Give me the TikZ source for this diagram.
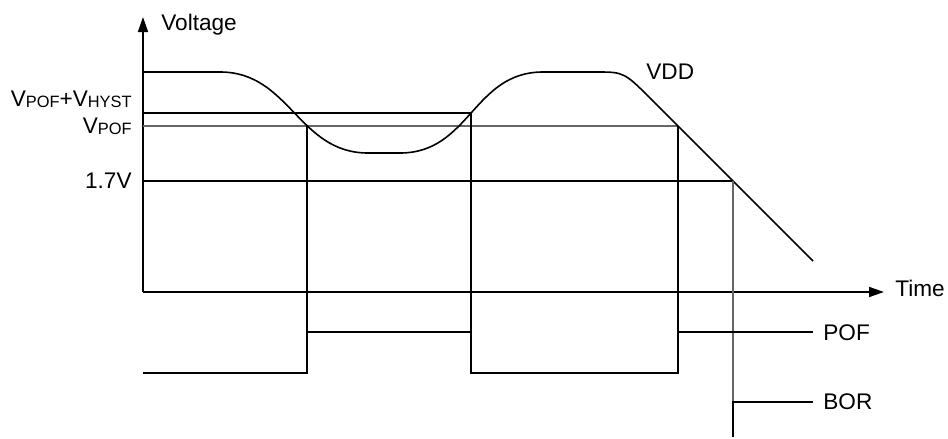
\documentclass[tikz,border=0pt]{standalone}
\usepackage{fontspec}
\setmainfont{Liberation Sans}
\usetikzlibrary{arrows.meta}
\newcommand{\lowsub}[1]{\raisebox{-0.5pt}{\fontsize{8.2}{8.2}\selectfont #1}}
\begin{document}
\begin{tikzpicture}[x=0.5pt,y=-0.5pt,
  lbl/.style={inner sep=0pt, font=\fontsize{11.3}{13}\selectfont},
  wave/.style={line width=0.8pt, black},
  guide/.style={line width=0.6pt, black},
  faint/.style={line width=0.55pt, black!60},
  axisarrow/.style={line width=0.75pt, -{Triangle[length=7.5pt,width=5pt]}}]
\useasboundingbox (0,0) rectangle (948,439);
% axes
\coordinate (O) at (143,292);
\coordinate (ytop) at (143,17);
\coordinate (xend) at (884,292);
\draw[axisarrow] (O) -- (ytop);
\draw[axisarrow] (O) -- (xend);
% key points
\coordinate (hystL) at (143,113);
\coordinate (hystX) at (471,113);
\coordinate (pofL) at (143,126);
\coordinate (pofX1) at (307,126);
\coordinate (pofX2) at (678,126);
\coordinate (borL) at (143,181);
\coordinate (borX) at (733,181);
% level lines
\draw[guide] (hystL) -- (hystX);
\draw[faint] (pofL) -- (pofX2);
\draw[guide] (borL) -- (borX);
% VDD curve
\draw[wave] (143,72) -- (220,72) .. controls (290,72) and (298,153) .. (368,153)
  -- (400,153) .. controls (470,153) and (473,72) .. (543,72)
  -- (596,72) .. controls (624,72) .. (652,100) -- (813,261);
% vertical guides
\coordinate (e1) at (307,373);
\coordinate (e2) at (471,373);
\coordinate (e3) at (678,373);
\coordinate (bhi) at (733,402);
\coordinate (blo) at (733,437);
\draw[guide] (pofX1) -- (e1);
\draw[guide] (hystX) -- (e2);
\draw[guide] (pofX2) -- (e3);
\draw[faint] (borX) -- (bhi);
% POF signal
\draw[wave] (143,373) -- (e1) -- (307,332) -- (471,332) -- (e2) -- (e3) -- (678,332) -- (813,332);
% BOR signal
\draw[wave] (blo) -- (bhi) -- (813,402);
% labels
\node[lbl, anchor=base west] (voltage) at (161,30) {Voltage};
\node[lbl, anchor=base west] (vdd) at (646,79) {VDD};
\node[lbl, anchor=base west] (time) at (895,296) {Time};
\node[lbl, anchor=base west] (pof) at (823,340) {POF};
\node[lbl, anchor=base west] (bor) at (823,409) {BOR};
\node[lbl, anchor=base east] (l17) at (132,188) {1.7V};
\node[lbl, anchor=base east] (lhyst) at (132,106) {V\lowsub{POF}+V\lowsub{HYST}};
\node[lbl, anchor=base east] (lpof) at (132,133) {V\lowsub{POF}};
\end{tikzpicture}
\end{document}
